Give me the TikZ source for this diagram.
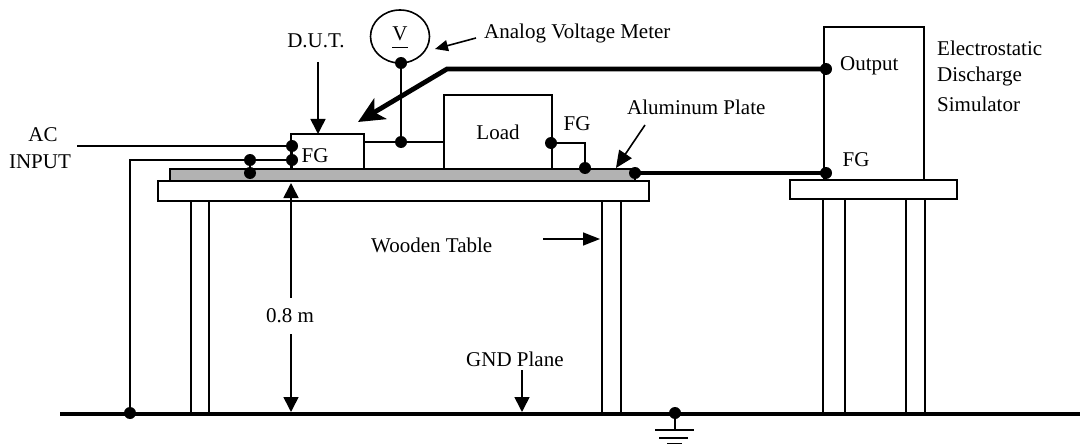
\documentclass[tikz,border=0pt]{standalone}
\usepackage{fontspec}
\setmainfont{Liberation Serif}
\usetikzlibrary{arrows.meta,shapes.geometric}
\tikzset{
  box/.style={draw,line width=1.6pt,fill=white,inner sep=0pt,outer sep=0pt},
  lbl/.style={inner sep=0pt,font=\fontsize{21}{24}\selectfont},
  wire/.style={line width=1.6pt},
  heavy/.style={line width=4.8pt},
  pointer/.style={line width=1.6pt,-{Triangle[length=15pt,width=15pt]}},
  dot/.style={fill=black}
}
\begin{document}
\begin{tikzpicture}[x=1pt,y=-1pt]
\useasboundingbox (0,0) rectangle (1080,444);
% ground plane
\coordinate (gndL) at (60,413.5);
\coordinate (gndR) at (1080,413.5);
% legs
\foreach \x in {191,209,602,621,823,845,906,925} {
  \draw[wire] (\x,0 |- 0,190) -- (\x,0 |- gndL);
}
\draw[line width=4pt] (gndL) -- (gndR);
% tables and plate
\node (table) [box,minimum width=491,minimum height=20] at (403.5,191) {};
\node (simtable) [box,minimum width=167,minimum height=19] at (873.5,189.5) {};
\node (plate) [box,fill=gray!60,minimum width=465,minimum height=12] at (402.5,175) {};
% boxes
\node (dut) [box,minimum width=73,minimum height=35] at (327.5,151.5) {};
\node (load) [box,minimum width=108,minimum height=74] at (498,132) {};
\node (sim) [box,minimum width=100,minimum height=153] at (874,103.5) {};
\node (meter) [draw,line width=1.6pt,ellipse,minimum width=59,minimum height=53,inner sep=0pt,outer sep=0pt] at (400,36.5) {};
% junctions
\foreach \n/\x/\y in {acdot/292/146,fgdot/292/160,tapdot/250/160,platedot/250/173,
  gnddot/130/413,meterdot/401/63,vdot/401/142,loaddot/551/143,loadfg/585/168,
  platefg/635/173,outdot/826/69,simfg/826/173,earthdot/675/413} {
  \coordinate (\n) at (\x,\y);
}
\coordinate (acfree) at (77,146);
\coordinate (bend) at (447,70);
\coordinate (hvtip) at (358,122);
\coordinate (earthtop) at (675,430);
% wiring
\draw[wire] (acfree) -- (acdot);
\draw[wire] (gnddot) |- (tapdot) -- (fgdot);
\draw[wire] (acdot) -- (fgdot) -- (fgdot |- dut.south);
\draw[wire] (tapdot) -- (platedot);
\draw[wire] (meterdot) -- (vdot);
\draw[wire] (dut.east |- vdot) -- (load.west |- vdot);
\draw[wire] (loaddot) -| (loadfg);
\draw[heavy] (platefg) -- (simfg);
\draw[heavy,-{Stealth[length=26pt,width=24pt,inset=7pt]}] (outdot) -- (outdot -| bend) -- (hvtip);
\foreach \n in {acdot,fgdot,tapdot,platedot,gnddot,meterdot,vdot,loaddot,loadfg,platefg,outdot,simfg,earthdot} {
  \fill[dot] (\n) circle (6);
}
% earth symbol
\draw[wire] (earthdot) -- (earthtop);
\draw[wire] (655,430) -- (694,430);
\draw[wire] (659,438) -- (688,438);
\draw[wire] (667,443.5) -- (682,443.5);
% labels
\node (aclbl) [lbl] at (43,135) {AC};
\node (inputlbl) [lbl] at (40,162) {INPUT};
\node (dutlbl) [lbl] at (316,41) {D.U.T.};
\node (vlbl) [lbl] at (400,37) {\underline{\raisebox{5pt}{V}}};
\node (meterlbl) [lbl,anchor=west] at (484,33) {Analog Voltage Meter};
\node (dutfg) [lbl] at (315,156) {FG};
\node (loadlbl) [lbl] at (498,132) {Load};
\node (loadfglbl) [lbl] at (577,124) {FG};
\node (alulbl) [lbl,anchor=west] at (627,107) {Aluminum Plate};
\node (outlbl) [lbl,anchor=west] at (840,66) {Output};
\node (simfglbl) [lbl] at (856,160) {FG};
\node (esd1) [lbl,anchor=west] at (937,48) {Electrostatic};
\node (esd2) [lbl,anchor=west] at (937,76) {Discharge};
\node (esd3) [lbl,anchor=west] at (937,104) {Simulator};
\node (woodlbl) [lbl,anchor=west] at (371,245) {Wooden Table};
\node (hlbl) [lbl,minimum height=36] at (290,316) {0.8 m};
\node (gndlbl) [lbl,anchor=west] at (466,359) {GND Plane};
% pointers
\coordinate (meterarrow) at (435,49);
\draw[line width=1.6pt,-{Triangle[length=13pt,width=11pt]}] (476,38) -- (meterarrow);
\draw[pointer] (318,62) -- (318,134);
\draw[pointer] (hlbl.north -| 291,0) -- (291,183);
\draw[pointer] (hlbl.south -| 291,0) -- (291,412);
\draw[line width=1.6pt,-{Triangle[length=17pt,width=13pt]}] (543,239) -- (600,239);
\draw[pointer] (522,370) -- (522,412);
\draw[line width=1.6pt,-{Triangle[length=17pt,width=15pt]}] (645,125) -- (616,168);
\end{tikzpicture}
\end{document}
